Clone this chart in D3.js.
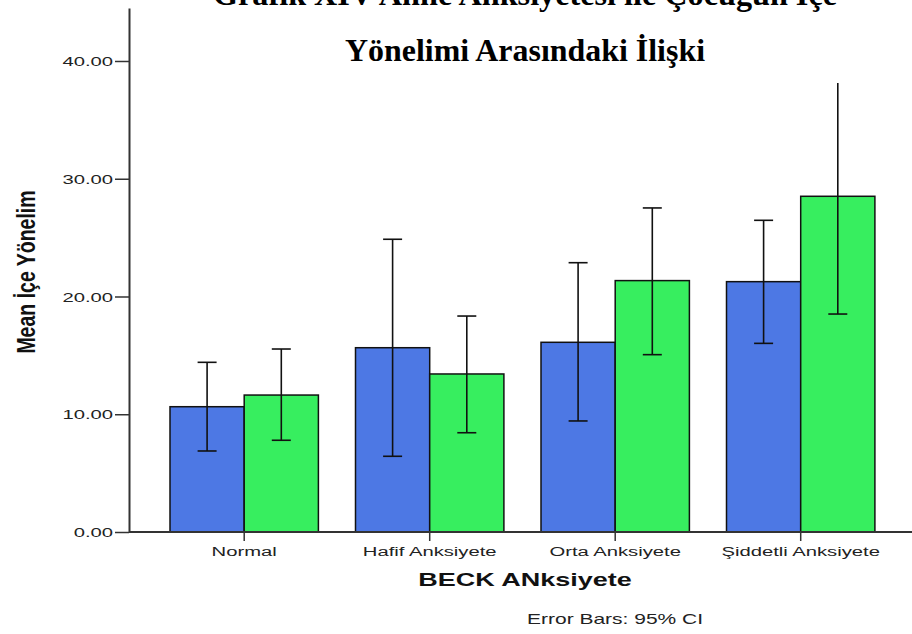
<!DOCTYPE html>
<html>
<head>
<meta charset="utf-8">
<script src="https://cdn.jsdelivr.net/npm/d3@7"></script>
<style>
  html, body { margin: 0; padding: 0; background: #fff; }
  svg { display: block; }
</style>
</head>
<body>
<svg id="chart" width="912" height="634"></svg>
<script>
// ---- data ----
const categories = ["Normal", "Hafif Anksiyete", "Orta Anksiyete", "Şiddetli Anksiyete"];
const seriesNames = ["Grup 1", "Grup 2"];
const meanBlue  = [10.64, 15.65, 16.11, 21.26];
const lowerBlue = [6.88, 6.43, 9.43, 16.02];
const upperBlue = [14.41, 24.86, 22.87, 26.47];
const meanGreen  = [11.63, 13.42, 21.35, 28.51];
const lowerGreen = [7.79, 8.43, 15.06, 18.51];
const upperGreen = [15.54, 18.34, 27.52, 38.5];
const yTicks = [0, 10, 20, 30, 40];
const titleLines = ["Grafik XIV Anne Anksiyetesi ile Çocuğun İçe", "Yönelimi Arasındaki İlişki"];
const yLabel = "Mean İçe Yönelim";
const xLabel = "BECK ANksiyete";
const note = "Error Bars: 95% CI";

const colors = ["#4d78e4", "#37ee5f"];
const SX = 1.5; // horizontal stretch of the original picture's text

const svg = d3.select("#chart");

const y = d3.scaleLinear().domain([0, 44.5]).range([532, 8]);
const x0 = d3.scaleBand().domain(categories).range([151.45, 893.45]).paddingInner(0.2).paddingOuter(0.1);
const x1 = d3.scaleBand().domain(seriesNames).range([0, x0.bandwidth()]);

const rows = [];
categories.forEach((c, i) => {
  rows.push({cat: c, s: seriesNames[0], mean: meanBlue[i], lo: lowerBlue[i], hi: upperBlue[i], color: colors[0]});
  rows.push({cat: c, s: seriesNames[1], mean: meanGreen[i], lo: lowerGreen[i], hi: upperGreen[i], color: colors[1]});
});

// bars
svg.append("g").selectAll("rect").data(rows).join("rect")
  .attr("x", d => x0(d.cat) + x1(d.s))
  .attr("y", d => y(d.mean))
  .attr("width", x1.bandwidth())
  .attr("height", d => y(0) - y(d.mean))
  .attr("fill", d => d.color)
  .attr("stroke", "#111")
  .attr("stroke-width", 1.5);

// error bars
const capW = 19;
const eb = svg.append("g").attr("stroke", "#111").attr("stroke-width", 1.6);
rows.forEach(d => {
  const cx = x0(d.cat) + x1(d.s) + x1.bandwidth() / 2;
  eb.append("line").attr("x1", cx).attr("x2", cx).attr("y1", y(d.hi)).attr("y2", y(d.lo));
  eb.append("line").attr("x1", cx - capW / 2).attr("x2", cx + capW / 2).attr("y1", y(d.hi)).attr("y2", y(d.hi));
  eb.append("line").attr("x1", cx - capW / 2).attr("x2", cx + capW / 2).attr("y1", y(d.lo)).attr("y2", y(d.lo));
});

// y axis
const axisColor = "#333";
const yAxis = svg.append("g").attr("transform", "translate(129,0)")
  .call(d3.axisLeft(y).tickValues(yTicks).tickSize(14).tickSizeOuter(0).tickFormat(d3.format(".2f")));
yAxis.select(".domain").attr("stroke", axisColor).attr("stroke-width", 2);
yAxis.selectAll(".tick line").attr("stroke", axisColor).attr("stroke-width", 1.5);
yAxis.selectAll(".tick text").each(function() {
  const t = d3.select(this);
  t.attr("x", null).attr("dy", "0.35em")
   .attr("transform", `translate(-16,0) scale(${SX},1)`)
   .attr("font-family", "Liberation Sans, Arial, sans-serif")
   .attr("font-size", 13.5).attr("fill", "#222").attr("text-anchor", "end");
});

// x axis
const xAxis = svg.append("g").attr("transform", "translate(0,532)")
  .call(d3.axisBottom(x0).tickSize(9).tickSizeOuter(0));
xAxis.select(".domain").attr("d", "M129,0H912").attr("stroke", axisColor).attr("stroke-width", 2);
xAxis.selectAll(".tick line").attr("stroke", axisColor).attr("stroke-width", 1.5);
xAxis.selectAll(".tick text").each(function() {
  const t = d3.select(this);
  t.attr("y", null).attr("dy", null)
   .attr("transform", `translate(0,24) scale(${SX},1)`)
   .attr("font-family", "Liberation Sans, Arial, sans-serif")
   .attr("font-size", 13.5).attr("fill", "#222").attr("text-anchor", "middle");
});

// axis titles
svg.append("text")
  .attr("transform", `translate(525,586) scale(${SX},1)`)
  .attr("text-anchor", "middle")
  .attr("font-family", "Liberation Sans, Arial, sans-serif")
  .attr("font-weight", "bold").attr("font-size", 18).attr("fill", "#111")
  .text(xLabel);

svg.append("text")
  .attr("transform", `translate(35,272) scale(1.3,1) rotate(-90)`)
  .attr("text-anchor", "middle")
  .attr("font-family", "Liberation Sans, Arial, sans-serif")
  .attr("font-weight", "bold").attr("font-size", 19.5).attr("fill", "#111")
  .text(yLabel);

svg.append("text")
  .attr("transform", `translate(527,624) scale(${SX},1)`)
  .attr("text-anchor", "start")
  .attr("font-family", "Liberation Sans, Arial, sans-serif")
  .attr("font-size", 14).attr("fill", "#222")
  .text(note);

// title block (pasted over chart, white background)
svg.append("rect").attr("x", 185).attr("y", 0).attr("width", 680).attr("height", 83).attr("fill", "#fff");
svg.append("text")
  .attr("x", 525).attr("y", 5)
  .attr("text-anchor", "middle")
  .attr("font-family", "Liberation Serif, Times New Roman, serif")
  .attr("font-weight", "bold").attr("font-size", 32).attr("fill", "#000")
  .attr("textLength", 624).attr("lengthAdjust", "spacingAndGlyphs")
  .text(titleLines[0]);
svg.append("text")
  .attr("x", 525).attr("y", 61)
  .attr("text-anchor", "middle")
  .attr("font-family", "Liberation Serif, Times New Roman, serif")
  .attr("font-weight", "bold").attr("font-size", 32).attr("fill", "#000")
  .attr("textLength", 360).attr("lengthAdjust", "spacingAndGlyphs")
  .text(titleLines[1]);
</script>
</body>
</html>
